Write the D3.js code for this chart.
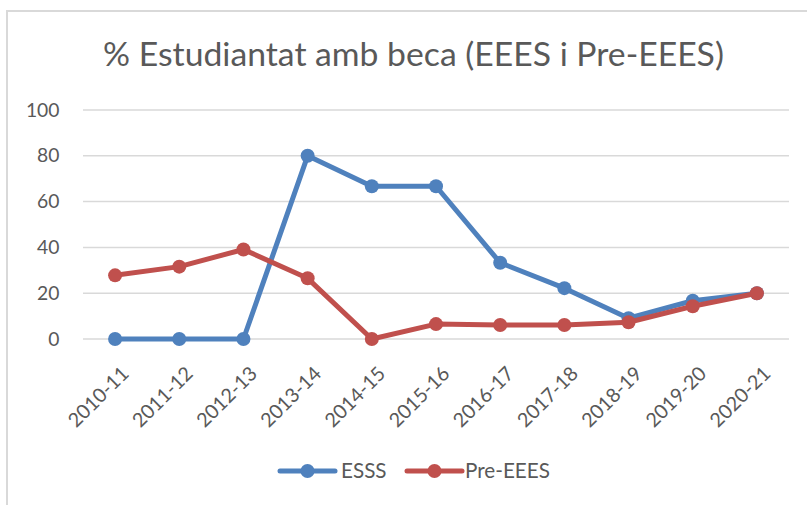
<!DOCTYPE html>
<html><head><meta charset="utf-8">
<script src="https://cdn.jsdelivr.net/npm/d3@7/dist/d3.min.js"></script>
<style>body{margin:0;background:#fff}svg{display:block;font-family:Lato,"Open Sans",sans-serif}</style>
</head><body>
<script>
const categories = ["2010-11","2011-12","2012-13","2013-14","2014-15","2015-16","2016-17","2017-18","2018-19","2019-20","2020-21"];
const esss = [0,0,0,80,66.7,66.7,33.3,22.2,9.1,16.7,20];
const preEEES = [27.8,31.6,39.1,26.5,0,6.5,6.1,6.1,7.3,14.3,20];
const yTicks = [0,20,40,60,80,100];
const seriesNames = ["ESSS","Pre-EEES"];
const colors = ["#4f81bd","#c0504d"];
const title = "% Estudiantat amb beca (EEES i Pre-EEES)";

const W=807,H=505;
const svg=d3.select("body").append("svg").attr("width",W).attr("height",H);
function fit(sel, node, target){
  const fs=+sel.attr("font-size");
  const w=node.getComputedTextLength();
  sel.attr("font-size", fs*target/w);
}
svg.append("path").attr("d",`M7,${H} V11 H${W}`).attr("fill","none").attr("stroke","#d9d9d9").attr("stroke-width",2);

const x=d3.scaleBand().domain(categories).range([83,789]);
const y=d3.scaleLinear().domain([0,100]).range([339,110]);

svg.append("g").selectAll("line").data(yTicks).join("line")
  .attr("x1",83).attr("x2",789).attr("y1",d=>y(d)).attr("y2",d=>y(d))
  .attr("stroke","#d9d9d9").attr("stroke-width",1.5);

const ya=svg.append("g").attr("transform","translate(59.5,0)")
  .call(d3.axisLeft(y).tickValues(yTicks).tickSize(0).tickPadding(0));
ya.select(".domain").remove();
const yt=ya.selectAll("text").attr("font-size",19).attr("fill","#595959").attr("font-family","Lato,sans-serif");
fit(yt, yt.filter(d=>d===100).node(), 33.6);

const xa=svg.append("g").attr("transform","translate(0,339)")
  .call(d3.axisBottom(x).tickSize(0).tickPadding(0));
xa.select(".domain").remove();
const xt=xa.selectAll("text").attr("font-size",18).attr("fill","#595959").attr("font-family","Lato,sans-serif")
  .attr("text-anchor","end").attr("dy","0.35em")
  .attr("transform","translate(10,31) rotate(-45)");
fit(xt, xt.node(), 76);

const tt=svg.append("text").attr("x",413.5).attr("y",66).attr("text-anchor","middle")
  .attr("font-size",28).attr("fill","#595959").text(title);
fit(tt, tt.node(), 621);

const cx=d=>x(d)+x.bandwidth()/2;
[esss,preEEES].forEach((vals,i)=>{
  const pts=categories.map((c,j)=>[cx(c),y(vals[j])]);
  svg.append("path").attr("d",d3.line()(pts)).attr("fill","none")
    .attr("stroke",colors[i]).attr("stroke-width",5).attr("stroke-linejoin","round").attr("stroke-linecap","round");
  svg.append("g").selectAll("circle").data(pts).join("circle")
    .attr("cx",d=>d[0]).attr("cy",d=>d[1]).attr("r",7).attr("fill",colors[i]);
});

const lg=[{x:280,tx:341},{x:407,tx:465}];
const ltexts=[];
seriesNames.forEach((n,i)=>{
  const g=svg.append("g");
  g.append("line").attr("x1",lg[i].x).attr("x2",lg[i].x+55).attr("y1",471).attr("y2",471)
    .attr("stroke",colors[i]).attr("stroke-width",5).attr("stroke-linecap","round");
  g.append("circle").attr("cx",lg[i].x+27.5).attr("cy",471).attr("r",7).attr("fill",colors[i]);
  ltexts.push(g.append("text").attr("x",lg[i].tx).attr("y",471).attr("dy","0.35em").attr("font-size",18)
    .attr("fill","#595959").text(n).node());
});
const lt=d3.selectAll(ltexts);
fit(lt, ltexts[1], 85);
</script>
</body></html>
